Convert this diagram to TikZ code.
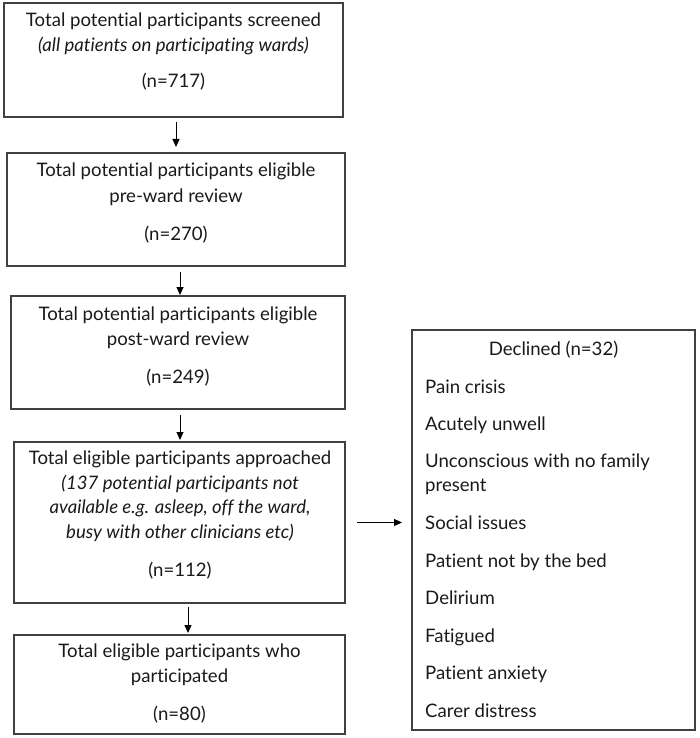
\documentclass[tikz,border=0pt]{standalone}
\usepackage{fontspec}
\setmainfont{Lato}[Ligatures=NoCommon]
\usetikzlibrary{arrows.meta,calc}
\definecolor{boxline}{HTML}{404040}
\definecolor{txtcol}{HTML}{1A1A1A}
\tikzset{
  box/.style={draw=boxline, line width=1.2pt, inner sep=0pt, outer sep=0pt, fill=white},
  txt/.style={anchor=base, inner sep=0pt, text=txtcol, font=\fontsize{18.6}{22}\selectfont},
  itxt/.style={txt, font=\fontsize{18.6}{22}\selectfont\itshape},
  ltxt/.style={txt, anchor=base west},
  arr/.style={draw=black, line width=1pt, -{Triangle[length=8pt,width=7pt]}}
}
\begin{document}
\begin{tikzpicture}[x=1pt,y=-1pt]
\useasboundingbox (0,0) rectangle (699,738);
\fill[white] (0,0) rectangle (699,738);
% boxes
\node[box, minimum width=339pt, minimum height=114pt] (b1) at (173.5,60) {};
\node[box, minimum width=338pt, minimum height=113pt] (b2) at (176,209.5) {};
\node[box, minimum width=334pt, minimum height=113pt] (b3) at (178,352.5) {};
\node[box, minimum width=331pt, minimum height=161pt] (b4) at (179.5,522.5) {};
\node[box, minimum width=331pt, minimum height=99pt] (b5) at (179.5,684.5) {};
\node[box, minimum width=283pt, minimum height=400pt] (d) at (553.5,530) {};
% box 1 text
\node[txt] (t1a) at (173.5,27) {Total potential participants screened};
\node[itxt] (t1b) at (173.5,52) {(all patients on participating wards)};
\node[txt] (t1c) at (173.5,88) {(n=717)};
% box 2 text
\node[txt] (t2a) at (176,177) {Total potential participants eligible};
\node[txt] (t2b) at (176,202) {pre-ward review};
\node[txt] (t2c) at (176,240) {(n=270)};
% box 3 text
\node[txt] (t3a) at (178,320) {Total potential participants eligible};
\node[txt] (t3b) at (178,345) {post-ward review};
\node[txt] (t3c) at (178,383) {(n=249)};
% box 4 text
\node[txt] (t4a) at (180,464) {Total eligible participants approached};
\node[itxt] (t4b) at (180,489) {(137 potential participants not};
\node[itxt] (t4c) at (180,513) {available e.g. asleep, off the ward,};
\node[itxt] (t4d) at (180,538) {busy with other clinicians etc)};
\node[txt] (t4e) at (180,576) {(n=112)};
% box 5 text
\node[txt] (t5a) at (179.5,657) {Total eligible participants who};
\node[txt] (t5b) at (179.5,682) {participated};
\node[txt] (t5c) at (179.5,720) {(n=80)};
% declined box text
\node[txt] (dh) at (553.5,355) {Declined (n=32)};
\node[ltxt] (d1) at (425,393) {Pain crisis};
\node[ltxt] (d2) at (425,430) {Acutely unwell};
\node[ltxt] (d3) at (425,467) {Unconscious with no family};
\node[ltxt] (d3b) at (425,491) {present};
\node[ltxt] (d4) at (425,529) {Social issues};
\node[ltxt] (d5) at (425,567) {Patient not by the bed};
\node[ltxt] (d6) at (425,604) {Delirium};
\node[ltxt] (d7) at (425,642) {Fatigued};
\node[ltxt] (d8) at (425,679) {Patient anxiety};
\node[ltxt] (d9) at (425,717) {Carer distress};
% arrows
\draw[arr, shorten <=5pt, shorten >=6pt] ([xshift=2.5pt]b1.south) -- ([xshift=2.5pt]b1.south |- b2.north);
\draw[arr, shorten <=6pt, shorten >=1pt] ([xshift=4pt]b2.south) -- ([xshift=4pt]b2.south |- b3.north);
\draw[arr, shorten <=6pt, shorten >=2pt] ([xshift=2pt]b3.south) -- ([xshift=2pt]b3.south |- b4.north);
\draw[arr, shorten <=4pt, shorten >=2pt] ([xshift=8.5pt]b4.south) -- ([xshift=8.5pt]b4.south |- b5.north);
\draw[arr, shorten <=12pt, shorten >=10pt] (b4.east) -- (b4.east -| d.west);
\end{tikzpicture}
\end{document}
